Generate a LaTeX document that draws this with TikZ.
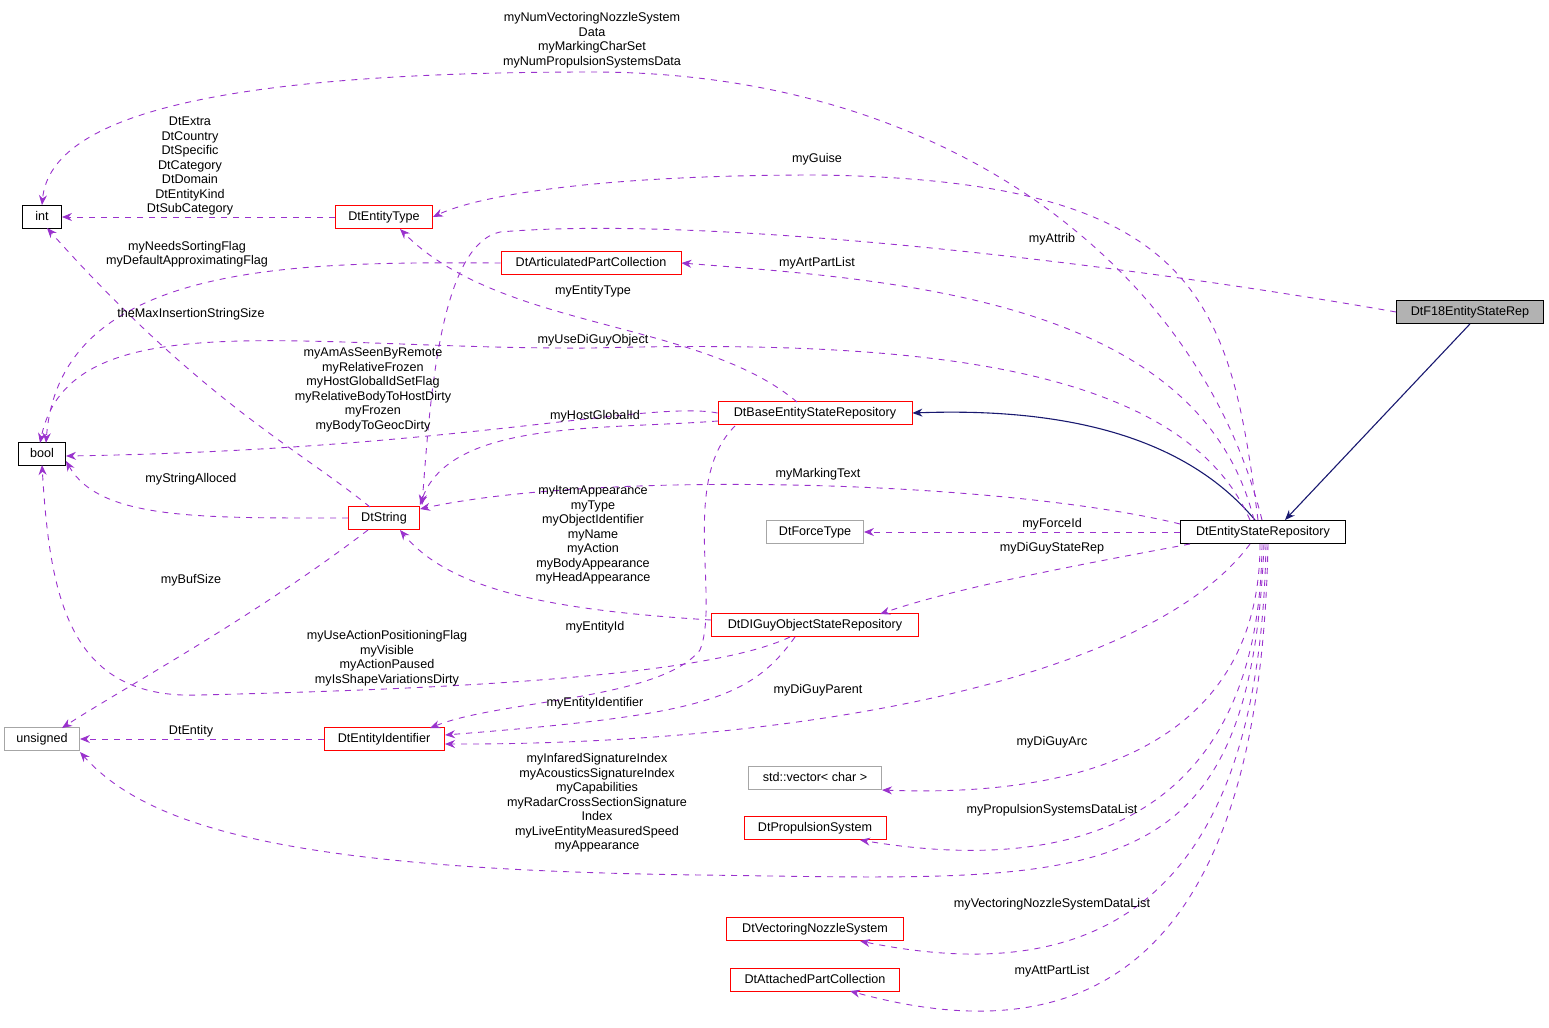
\documentclass[tikz,border=0pt]{standalone}
\usepackage{fontspec}
\setmainfont{Liberation Sans}
\usetikzlibrary{arrows.meta}
\definecolor{ep}{HTML}{9A32CD}
\definecolor{nv}{HTML}{191970}
\begin{document}
\begin{tikzpicture}[x=0.5pt,y=-0.5pt,
 box/.style={draw,line width=0.4pt,inner sep=0pt,minimum height=11.5pt,font=\fontsize{6.3}{7}\selectfont,text height=5pt,text depth=1.3pt,fill=white},
 rb/.style={box,draw=red},
 gb/.style={box,draw=gray!70},
 dep/.style={draw=ep,dashed,line width=0.45pt,-{Stealth[length=5pt,width=4pt]}},
 inh/.style={draw=nv,line width=0.55pt,-{Stealth[length=5pt,width=4pt]}},
 lb/.style={font=\fontsize{6.3}{7.25}\selectfont,align=center,inner sep=0pt}]
\useasboundingbox (0,0) rectangle (1549,1028);
\node[box,minimum width=19.5pt] (int) at (42,217) {int};
\node[box,minimum width=23.5pt] (bool) at (42,454) {bool};
\node[gb,minimum width=37.5pt] (uns) at (42,739) {unsigned};
\node[rb,minimum width=48.5pt] (et) at (384,217) {DtEntityType};
\node[rb,minimum width=90pt] (apc) at (591,263) {DtArticulatedPartCollection};
\node[rb,minimum width=97pt] (base) at (815,413) {DtBaseEntityStateRepository};
\node[rb,minimum width=35.5pt] (str) at (384,518) {DtString};
\node[gb,minimum width=48.5pt] (ft) at (815,532) {DtForceType};
\node[rb,minimum width=103.5pt] (dig) at (815,625) {DtDIGuyObjectStateRepository};
\node[rb,minimum width=60pt] (eid) at (384,739) {DtEntityIdentifier};
\node[gb,minimum width=66.5pt] (vec) at (815,778) {std::vector< char >};
\node[rb,minimum width=71pt] (ps) at (815,828) {DtPropulsionSystem};
\node[rb,minimum width=88.5pt] (vns) at (815,929) {DtVectoringNozzleSystem};
\node[rb,minimum width=84.5pt] (att) at (815,980) {DtAttachedPartCollection};
\node[box,minimum width=82.5pt] (esr) at (1263,532) {DtEntityStateRepository};
\node[box,fill=gray!60,minimum width=73.5pt] (f18) at (1470,312) {DtF18EntityStateRep};
% inheritance
\draw[inh] (f18.south) -- (1285,520);
\draw[inh] (1255,520) .. controls (1180,430) and (1050,408) .. (base.east);
% deps
\draw[dep] (1262,520) .. controls (1200,270) and (950,72) .. (592,72) .. controls (200,72) and (50,120) .. (int.north);
\node[lb] at (592,40) {myNumVectoringNozzleSystem\\Data\\myMarkingCharSet\\myNumPropulsionSystemsData};
\draw[dep] (1258,520) .. controls (1230,300) and (1200,180) .. (817,175) .. controls (600,175) and (480,195) .. (et.east);
\node[lb] at (817,159) {myGuise};
\draw[dep] (f18.west) .. controls (1100,260) and (700,215) .. (500,232) .. controls (440,245) and (430,400) .. (422,505);
\node[lb] at (1052,239) {myAttrib};
\draw[dep] (1254,520) .. controls (1200,300) and (900,280) .. (apc.east);
\node[lb] at (817,263) {myArtPartList};
\draw[dep] (apc.west) .. controls (300,262) and (60,260) .. (46,443);
\node[lb] at (187,254) {myNeedsSortingFlag\\myDefaultApproximatingFlag};
\draw[dep] (797,402) .. controls (700,320) and (500,330) .. (400,229);
\node[lb] at (593,291) {myEntityType};
\draw[dep] (1250,520) .. controls (1180,360) and (900,340) .. (593,348) .. controls (300,350) and (70,300) .. (40,443);
\node[lb] at (593,340) {myUseDiGuyObject};
\draw[dep] (370,507) .. controls (300,450) and (200,400) .. (47,228);
\node[lb] at (191,314) {theMaxInsertionStringSize};
\draw[dep] (base.west) .. controls (650,400) and (450,450) .. (66,456);
\node[lb] at (373,390) {myAmAsSeenByRemote\\myRelativeFrozen\\myHostGlobalIdSetFlag\\myRelativeBodyToHostDirty\\myFrozen\\myBodyToGeocDirty};
\draw[dep] (718,421) .. controls (600,430) and (450,420) .. (420,505);
\node[lb] at (595,416) {myHostGlobalId};
\draw[dep] (esr.west) ++(0,-8) .. controls (1000,480) and (600,470) .. (420,509);
\node[lb] at (818,474) {myMarkingText};
\draw[dep] (str.west) .. controls (200,518) and (100,520) .. (66,461);
\node[lb] at (191,479) {myStringAlloced};
\draw[dep] (esr.west) -- (ft.east);
\node[lb] at (1052,524) {myForceId};
\draw[dep] (711,620) .. controls (550,610) and (450,590) .. (400,530);
\node[lb] at (593,535) {myItemAppearance\\myType\\myObjectIdentifier\\myName\\myAction\\myBodyAppearance\\myHeadAppearance};
\draw[dep] (1190,544) .. controls (1050,570) and (950,590) .. (880,614);
\node[lb] at (1052,548) {myDiGuyStateRep};
\draw[dep] (368,530) .. controls (250,620) and (120,690) .. (62,728);
\node[lb] at (191,580) {myBufSize};
\draw[dep] (735,426) .. controls (680,480) and (720,600) .. (700,650) .. controls (660,700) and (500,700) .. (430,728);
\node[lb] at (595,627) {myEntityId};
\draw[dep] (790,637) .. controls (700,680) and (400,690) .. (200,695) .. controls (70,700) and (50,600) .. (42,465);
\node[lb] at (387,658) {myUseActionPositioningFlag\\myVisible\\myActionPaused\\myIsShapeVariationsDirty};
\draw[dep] (795,637) .. controls (750,700) and (700,715) .. (445,735);
\node[lb] at (595,703) {myEntityIdentifier};
\draw[dep] (1250,544) .. controls (1150,680) and (800,745) .. (445,744);
\node[lb] at (818,690) {myDiGuyParent};
\draw[dep] (eid.west) -- (uns.east);
\node[lb] at (191,731) {DtEntity};
\draw[dep] (1260,544) .. controls (1260,700) and (1150,800) .. (882,790);
\node[lb] at (1052,742) {myDiGuyArc};
\draw[dep] (1262,544) .. controls (1260,800) and (1100,880) .. (860,840);
\node[lb] at (1052,810) {myPropulsionSystemsDataList};
\draw[dep] (1264,544) .. controls (1250,900) and (1100,880) .. (700,875) .. controls (300,870) and (150,830) .. (80,752);
\node[lb] at (597,803) {myInfaredSignatureIndex\\myAcousticsSignatureIndex\\myCapabilities\\myRadarCrossSectionSignature\\Index\\myLiveEntityMeasuredSpeed\\myAppearance};
\draw[dep] (1266,544) .. controls (1260,900) and (1100,990) .. (860,941);
\node[lb] at (1052,904) {myVectoringNozzleSystemDataList};
\draw[dep] (1268,544) .. controls (1260,950) and (1100,1060) .. (850,991);
\node[lb] at (1052,971) {myAttPartList};
\node[lb] at (190,166) {DtExtra\\DtCountry\\DtSpecific\\DtCategory\\DtDomain\\DtEntityKind\\DtSubCategory};
\draw[dep] (et.west) -- (int.east);
\end{tikzpicture}
\end{document}
